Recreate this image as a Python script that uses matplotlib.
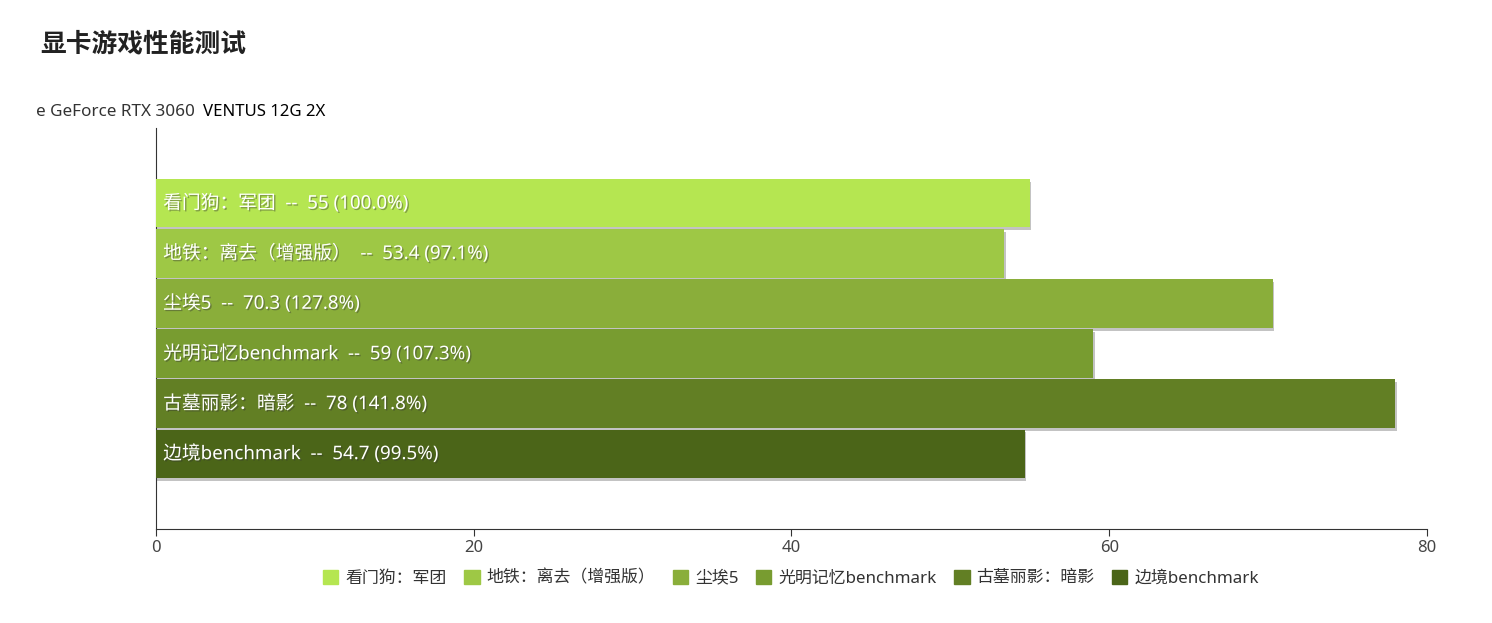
import matplotlib
matplotlib.use("Agg")
import matplotlib.pyplot as plt
import matplotlib.patheffects as pe

plt.rcParams['font.family'] = ['Noto Sans', 'Noto Sans CJK SC', 'DejaVu Sans']

games = ['看门狗：军团', '地铁：离去（增强版）', '尘埃5', '光明记忆benchmark', '古墓丽影：暗影', '边境benchmark']
fps = [55, 53.4, 70.3, 59, 78, 54.7]
pct = ['100.0%', '97.1%', '127.8%', '107.3%', '141.8%', '99.5%']
colors = ['#b5e651', '#9ec845', '#8aae3a', '#789c30', '#627f24', '#4b6518']
xticks = [0, 20, 40, 60, 80]

fig = plt.figure(figsize=(14.92, 6.23), dpi=100)
ax = fig.add_axes([156/1492, 1-529/623, (1427-156)/1492, (529-128)/623])

n = len(games)
for i, (g, v, p, c) in enumerate(zip(games, fps, pct, colors)):
    y = n - i + 0.5  # top bar first
    bar = ax.barh(y, v, height=0.97, color=c, zorder=3)
    for b in bar:
        b.set_path_effects([pe.SimplePatchShadow(offset=(1, -2), shadow_rgbFace='#888888', alpha=0.5), pe.Normal()])
    ax.text(0.45, y, f'{g}  --  {v:g} ({p})', color='white', fontsize=13.5,
            va='center', ha='left', zorder=5,
            path_effects=[pe.SimplePatchShadow(offset=(1, -1), shadow_rgbFace='#333333', alpha=0.4), pe.Normal()])

ax.set_xlim(0, 80)
ax.set_ylim(0, n + 2)
ax.set_xticks(xticks)
ax.set_xticklabels([str(t) for t in xticks], fontsize=12, color='#444444')
ax.set_yticks([])
for s in ['top', 'right']:
    ax.spines[s].set_visible(False)
ax.spines['left'].set_color('#333333')
ax.spines['bottom'].set_color('#333333')
ax.tick_params(axis='x', direction='out', length=5, color='#333333', pad=3)

fig.text(40/1492, 1-45/623, '显卡游戏性能测试', fontsize=18.5, fontweight='bold', color='#222222', va='center', ha='left')
fig.text(36/1492, 1-112/623, 'e GeForce RTX 3060', fontsize=12.3, color='#333333', va='center', ha='left')
fig.text(203/1492, 1-112/623, 'VENTUS 12G 2X', fontsize=12.1, color='#000000', va='center', ha='left')

handles = [plt.Rectangle((0, 0), 1, 1, facecolor=c, edgecolor=c, label=g) for g, c in zip(games, colors)]
fig.legend(handles=handles, loc='center', bbox_to_anchor=(791/1492, 1-578/623), ncol=6,
           frameon=False, fontsize=12.2, handlelength=0.9, handleheight=0.9, handletextpad=0.4,
           columnspacing=1.05, labelcolor='#333333')

fig.savefig('out.png', dpi=100)
